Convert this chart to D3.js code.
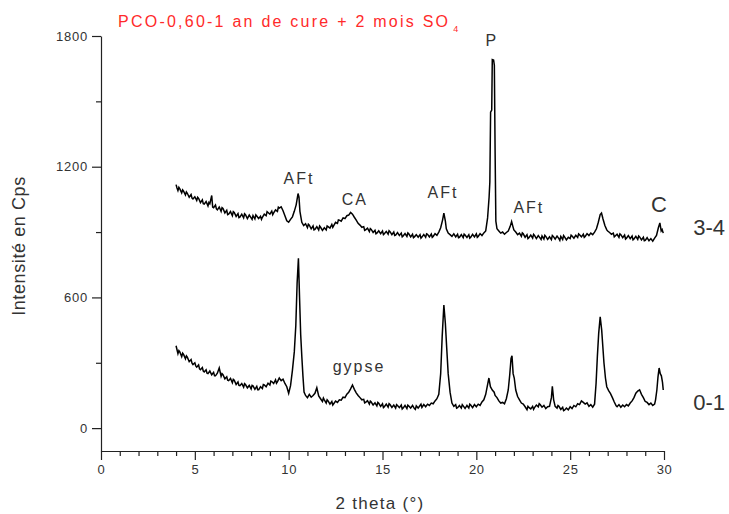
<!DOCTYPE html>
<html><head><meta charset="utf-8">
<script src="https://cdn.jsdelivr.net/npm/d3@7"></script>
<style>
html,body{margin:0;padding:0;background:#fff;}
svg{display:block;font-family:"Liberation Sans",Arial,sans-serif;}
</style></head>
<body><svg id="chart" width="729" height="514"></svg>
<script>
// ---- data ----
const chartTitle = "PCO-0,60-1 an de cure + 2 mois SO";
const titleSub = "4";
const xLabel = "2 theta (°)";
const yLabel = "Intensité en Cps";
const xMajorTicks = [0, 5, 10, 15, 20, 25, 30];
const xMinorTicks = [1,2,3,4,6,7,8,9,11,12,13,14,16,17,18,19,21,22,23,24,26,27,28,29];
const yMajorTicks = [0, 600, 1200, 1800];
const yMinorTicks = [300, 900, 1500];
const seriesNames = ["3-4", "0-1"];

// sample 3-4 : [2theta, counts]
const sample34 = [
[4.0,1118],[4.05,1102],[4.1,1090],[4.15,1105],[4.2,1098],[4.3,1080],[4.35,1094],[4.4,1088],[4.5,1070],[4.55,1084],[4.6,1078],[4.7,1060],[4.8,1072],[4.85,1056],[4.9,1052],
[5.0,1062],[5.1,1045],[5.15,1060],[5.2,1055],[5.3,1035],[5.4,1048],[5.45,1030],[5.5,1028],[5.6,1040],[5.7,1020],[5.75,1036],[5.8,1030],[5.9,1068],
[5.95,1015],[6.0,1012],[6.1,1024],[6.15,1006],[6.2,1002],[6.3,1015],[6.4,995],[6.45,1012],[6.5,1008],[6.6,988],[6.7,1000],[6.75,980],[6.8,982],[6.9,994],
[7.0,975],[7.05,994],[7.1,990],[7.2,972],[7.3,985],[7.35,966],[7.4,968],[7.5,982],[7.6,965],[7.65,984],[7.7,980],[7.8,962],[7.9,978],
[8.0,965],[8.05,958],[8.1,976],[8.2,960],[8.25,979],[8.3,974],[8.4,962],[8.5,972],[8.55,958],[8.6,968],[8.7,982],[8.8,975],[8.85,994],[8.9,990],
[9.0,982],[9.1,996],[9.15,980],[9.2,988],[9.3,1002],[9.4,995],[9.45,1014],[9.5,1010],[9.6,1016],[9.7,998],[9.8,975],[9.9,952],
[10.0,945],[10.1,958],[10.2,970],[10.3,995],[10.4,1025],[10.5,1077],[10.55,1060],[10.6,995],[10.7,945],[10.8,930],[10.9,938],
[11.0,920],[11.05,936],[11.1,932],[11.2,915],[11.3,928],[11.35,910],[11.4,912],[11.5,925],[11.6,910],[11.65,928],[11.7,922],[11.8,908],[11.9,920],
[12.0,910],[12.05,928],[12.1,925],[12.2,918],[12.3,935],[12.35,922],[12.4,930],[12.5,945],[12.6,940],[12.65,956],[12.7,955],[12.8,950],[12.9,965],
[13.0,962],[13.1,975],[13.2,978],[13.3,990],[13.4,982],[13.5,968],[13.6,955],[13.7,940],[13.8,932],[13.9,922],
[14.0,925],[14.05,908],[14.1,910],[14.2,918],[14.3,902],[14.35,916],[14.4,912],[14.5,898],[14.6,908],[14.65,892],[14.7,895],[14.8,906],[14.9,893],
[15.0,905],[15.05,888],[15.1,892],[15.2,903],[15.3,890],[15.35,906],[15.4,902],[15.5,888],[15.6,900],[15.65,884],[15.7,886],[15.8,898],[15.9,884],
[16.0,895],[16.05,878],[16.1,882],[16.2,893],[16.3,880],[16.35,896],[16.4,892],[16.5,878],[16.6,890],[16.65,874],[16.7,878],[16.8,888],[16.9,876],
[17.0,888],[17.05,872],[17.1,877],[17.2,889],[17.3,876],[17.35,892],[17.4,890],[17.5,878],[17.6,891],[17.65,876],[17.7,880],[17.8,893],[17.9,885],
[18.0,900],[18.1,920],[18.2,955],[18.27,987],[18.35,950],[18.4,915],[18.5,895],[18.6,888],[18.7,880],[18.8,892],[18.9,878],
[19.0,890],[19.05,874],[19.1,876],[19.2,888],[19.3,874],[19.35,890],[19.4,886],[19.5,875],[19.6,888],[19.65,872],[19.7,876],[19.8,890],[19.9,878],
[20.0,892],[20.05,876],[20.1,880],[20.2,893],[20.3,884],[20.4,896],[20.5,905],[20.6,965],[20.68,1060],[20.72,1130],[20.76,1450],
[20.82,1460],[20.85,1692],[20.92,1690],[20.96,1665],[21.0,1270],[21.04,950],[21.1,915],[21.2,905],[21.3,895],[21.4,900],
[21.5,890],[21.6,898],[21.7,905],[21.8,925],[21.88,948],[21.95,925],[22.0,910],[22.1,900],[22.2,888],[22.3,895],
[22.4,880],[22.45,896],[22.5,892],[22.6,876],[22.7,888],[22.75,870],[22.8,874],[22.9,886],[23.0,872],[23.05,890],[23.1,885],[23.2,870],[23.3,884],
[23.4,872],[23.45,866],[23.5,882],[23.6,868],[23.65,885],[23.7,880],[23.8,866],[23.9,878],[24.0,865],[24.05,884],[24.1,880],[24.2,868],[24.3,882],
[24.4,870],[24.45,862],[24.5,880],[24.6,866],[24.65,884],[24.7,878],[24.8,864],[24.9,876],[25.0,870],[25.05,886],[25.1,882],[25.2,872],[25.3,885],
[25.4,875],[25.45,892],[25.5,888],[25.6,878],[25.7,890],[25.75,876],[25.8,880],[25.9,893],[26.0,884],[26.1,895],[26.2,888],[26.3,900],
[26.4,915],[26.5,945],[26.6,980],[26.67,987],[26.75,960],[26.85,930],[26.95,910],[27.0,905],[27.1,898],[27.2,890],
[27.3,895],[27.35,878],[27.4,882],[27.5,890],[27.6,876],[27.65,892],[27.7,888],[27.8,874],[27.9,886],[27.95,868],[28.0,872],[28.1,884],[28.2,870],
[28.3,882],[28.35,864],[28.4,868],[28.5,880],[28.6,866],[28.65,882],[28.7,878],[28.8,864],[28.9,876],[28.95,860],[29.0,862],[29.1,874],[29.2,860],
[29.3,870],[29.4,858],[29.5,872],[29.6,885],[29.7,920],[29.78,942],[29.85,905],[29.9,912],[29.96,895]
];

// sample 0-1 : [2theta, counts]
const sample01 = [
[4.0,378],[4.05,360],[4.1,342],[4.15,356],[4.2,350],[4.3,328],[4.35,344],[4.4,338],[4.5,318],[4.55,332],[4.6,326],[4.7,305],[4.8,315],[4.85,298],[4.9,292],
[5.0,300],[5.05,286],[5.1,280],[5.2,290],[5.25,272],[5.3,268],[5.4,278],[5.45,262],[5.5,258],[5.6,268],[5.65,252],[5.7,250],[5.8,262],[5.9,245],
[6.0,256],[6.05,240],[6.1,240],[6.2,252],[6.3,276],[6.4,238],[6.45,250],[6.5,245],[6.6,226],[6.7,236],[6.75,220],[6.8,218],[6.9,228],
[7.0,208],[7.05,224],[7.1,220],[7.2,200],[7.3,212],[7.35,196],[7.4,195],[7.5,205],[7.6,188],[7.65,204],[7.7,200],[7.8,185],[7.9,196],
[8.0,180],[8.05,196],[8.1,194],[8.2,178],[8.3,192],[8.35,176],[8.4,176],[8.5,190],[8.6,182],[8.65,200],[8.7,198],[8.8,190],[8.9,206],
[9.0,198],[9.05,216],[9.1,214],[9.2,205],[9.3,222],[9.35,206],[9.4,212],[9.5,230],[9.6,218],[9.7,225],[9.8,205],[9.9,190],
[10.0,160],[10.1,195],[10.2,265],[10.3,350],[10.38,470],[10.45,665],[10.52,780],[10.58,600],[10.64,430],[10.7,330],
[10.76,240],[10.82,165],[10.9,150],[11.0,140],[11.1,155],[11.2,142],[11.3,150],[11.4,160],[11.5,185],[11.6,148],
[11.7,135],[11.8,122],[11.85,138],[11.9,130],[12.0,115],[12.05,130],[12.1,125],[12.2,110],[12.3,122],[12.35,106],[12.4,112],[12.5,124],[12.6,118],
[12.7,130],[12.8,128],[12.9,142],[13.0,140],[13.1,156],[13.2,165],[13.3,180],[13.4,198],[13.5,178],[13.6,162],
[13.7,150],[13.8,140],[13.9,130],[14.0,132],[14.05,116],[14.1,118],[14.2,126],[14.3,110],[14.35,124],[14.4,120],[14.5,106],[14.6,116],
[14.7,102],[14.75,118],[14.8,114],[14.9,100],[15.0,112],[15.05,94],[15.1,98],[15.2,110],[15.3,96],[15.35,112],[15.4,108],[15.5,95],[15.6,106],
[15.7,92],[15.75,108],[15.8,104],[15.9,94],[16.0,106],[16.05,88],[16.1,92],[16.2,104],[16.3,90],[16.35,106],[16.4,102],[16.5,92],[16.6,104],
[16.7,90],[16.75,86],[16.8,102],[16.9,92],[17.0,104],[17.05,110],[17.1,95],[17.2,108],[17.3,98],[17.4,110],[17.5,104],[17.6,115],
[17.7,112],[17.8,125],[17.9,135],[18.0,155],[18.1,250],[18.18,420],[18.27,565],[18.35,480],[18.42,370],[18.5,250],
[18.6,165],[18.7,115],[18.8,100],[18.9,108],[18.95,92],[19.0,94],[19.1,104],[19.2,92],[19.25,108],[19.3,102],[19.4,90],[19.5,104],
[19.6,92],[19.65,110],[19.7,106],[19.8,94],[19.9,108],[20.0,98],[20.1,110],[20.2,104],[20.3,120],[20.4,130],[20.5,155],
[20.6,200],[20.67,230],[20.75,190],[20.85,175],[20.95,165],[21.0,150],[21.1,140],[21.2,125],[21.3,115],[21.4,118],
[21.5,112],[21.6,135],[21.7,175],[21.78,245],[21.85,320],[21.9,332],[21.96,250],[22.02,230],[22.1,175],[22.2,145],
[22.3,130],[22.4,115],[22.5,110],[22.6,98],[22.7,85],[22.75,100],[22.8,95],[22.9,88],[23.0,100],[23.05,86],[23.1,94],[23.2,106],
[23.3,98],[23.35,112],[23.4,108],[23.5,96],[23.6,104],[23.7,90],[23.8,98],[23.9,100],[24.0,140],[24.05,192],[24.12,130],
[24.2,100],[24.3,92],[24.35,104],[24.4,100],[24.5,86],[24.6,96],[24.65,80],[24.7,82],[24.8,92],[24.9,84],[25.0,98],[25.1,90],
[25.2,104],[25.3,98],[25.4,112],[25.5,108],[25.6,125],[25.7,118],[25.8,110],[25.9,116],[26.0,100],[26.1,108],
[26.2,96],[26.3,110],[26.38,205],[26.45,330],[26.52,435],[26.6,511],[26.68,450],[26.74,375],[26.8,300],[26.88,230],
[26.95,190],[27.05,172],[27.15,158],[27.25,140],[27.35,120],[27.45,102],[27.5,98],[27.6,108],[27.7,96],[27.8,106],
[27.9,98],[28.0,108],[28.1,102],[28.2,115],[28.3,125],[28.4,140],[28.5,160],[28.6,170],[28.7,176],[28.8,155],
[28.9,140],[29.0,122],[29.1,118],[29.2,108],[29.3,115],[29.4,104],[29.5,110],[29.55,130],[29.62,175],[29.68,235],
[29.74,276],[29.8,250],[29.86,240],[29.92,210],[29.96,175]
];

// phase annotations: [label, 2theta, counts]
const phaseLabels = [
["P", 20.83, 1754], ["AFt", 10.55, 1120], ["CA", 13.53, 1024], ["AFt", 18.22, 1056],
["AFt", 22.8, 987], ["gypse", 13.75, 257]
];
const phaseC = ["C", 29.73, 990];
const seriesLabelPos = [[32.4, 886], [32.4, 83]];

// ---- drawing ----
const svg = d3.select("#chart");
const x = d3.scaleLinear().domain([0, 30]).range([101, 664]);
const y = d3.scaleLinear().domain([-105, 1800]).range([451, 36]);
const ink = "#333";
const font = "Liberation Sans, Arial, sans-serif";

// x axis
const gxMinor = svg.append("g").attr("transform", `translate(0,${y(-105)})`)
  .call(d3.axisBottom(x).tickValues(xMinorTicks).tickSize(5).tickSizeOuter(0).tickFormat(""));
gxMinor.select(".domain").remove();
const gx = svg.append("g").attr("transform", `translate(0,${y(-105)})`)
  .call(d3.axisBottom(x).tickValues(xMajorTicks).tickSize(9).tickSizeOuter(0).tickPadding(5).tickFormat(d3.format("d")));
gx.selectAll("text").attr("font-size", 13).attr("letter-spacing", 0.6).attr("fill", ink).attr("font-family", font);

// y axis
const gyMinor = svg.append("g").attr("transform", `translate(${x(0)},0)`)
  .call(d3.axisLeft(y).tickValues(yMinorTicks).tickSize(5).tickSizeOuter(0).tickFormat(""));
gyMinor.select(".domain").remove();
const gy = svg.append("g").attr("transform", `translate(${x(0)},0)`)
  .call(d3.axisLeft(y).tickValues(yMajorTicks).tickSize(9).tickSizeOuter(0).tickPadding(4).tickFormat(d3.format("d")));
gy.selectAll("text").attr("font-size", 13).attr("letter-spacing", 0.8).attr("fill", ink).attr("font-family", font);

svg.selectAll(".domain, .tick line").attr("stroke", "#222").attr("stroke-width", 1.2);

// lines
const line = d3.line().x(d => x(d[0])).y(d => y(d[1]));
[sample34, sample01].forEach(s => {
  svg.append("path").datum(s).attr("d", line)
    .attr("fill", "none").attr("stroke", "#000").attr("stroke-width", 1.5).attr("stroke-linejoin", "miter");
});

// title
const t = svg.append("text").attr("x", 118).attr("y", 27).attr("fill", "#ff2a2a")
  .attr("font-size", 16).attr("font-family", font);
t.append("tspan").attr("textLength", 330).attr("lengthAdjust", "spacing").text(chartTitle);
t.append("tspan").attr("font-size", 9).attr("dy", 5).attr("dx", 3).text(titleSub);

// axis titles
svg.append("text").attr("x", 380).attr("y", 509).attr("text-anchor", "middle")
  .attr("font-size", 17).attr("letter-spacing", 1.3).attr("fill", ink).text(xLabel);
svg.append("text").attr("transform", `translate(25,246) rotate(-90)`).attr("text-anchor", "middle")
  .attr("font-size", 18).attr("letter-spacing", 0.6).attr("fill", ink).text(yLabel);

// phase labels
svg.selectAll(".phase").data(phaseLabels).enter().append("text")
  .attr("x", d => x(d[1])).attr("y", d => y(d[2])).attr("text-anchor", "middle")
  .attr("font-size", 16).attr("letter-spacing", 2).attr("fill", ink).text(d => d[0]);
svg.append("text").attr("x", x(phaseC[1])).attr("y", y(phaseC[2])).attr("text-anchor", "middle")
  .attr("font-size", 22).attr("fill", ink).text(phaseC[0]);

// series labels
svg.selectAll(".slab").data(seriesNames).enter().append("text")
  .attr("x", (d, i) => x(seriesLabelPos[i][0])).attr("y", (d, i) => y(seriesLabelPos[i][1]))
  .attr("text-anchor", "middle").attr("font-size", 22).attr("fill", ink).text(d => d);
</script></body></html>
